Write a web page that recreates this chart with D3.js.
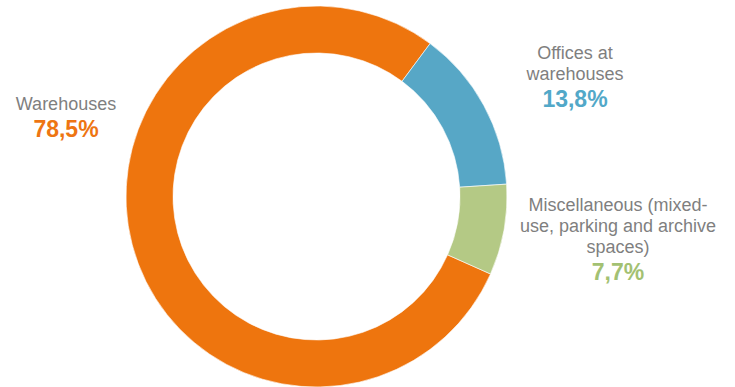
<!DOCTYPE html>
<html>
<head>
<meta charset="utf-8">
<script src="https://cdn.jsdelivr.net/npm/d3@7"></script>
<style>
  body { margin: 0; background: #fff; }
  svg { display: block; font-family: "Liberation Sans", Arial, sans-serif; }
</style>
</head>
<body>
<div id="chart"></div>
<script>
const categories = ["Warehouses", "Offices at warehouses", "Miscellaneous (mixed-use, parking and archive spaces)"];
const values = [78.5, 13.8, 7.7];
const valueLabels = ["78,5%", "13,8%", "7,7%"];
const labelLines = [
    ["Warehouses"],
    ["Offices at", "warehouses"],
    ["Miscellaneous (mixed-", "use, parking and archive", "spaces)"]
];
const sliceColors = ["#EE750E", "#57A7C6", "#B4C985"];
const valueColors = ["#EE7512", "#52A8C8", "#A3C172"];

const width = 735, height = 387;
const cx = 316.5, cy = 196.5;
const outerR = 190.5, innerR = 143.5;

const svg = d3.select("#chart").append("svg")
    .attr("width", width)
    .attr("height", height);

// first slice (Warehouses) begins at ~114deg clockwise from 12 o'clock
const pie = d3.pie().sort(null)
    .startAngle(114 * Math.PI / 180)
    .endAngle((114 + 360) * Math.PI / 180);

const arc = d3.arc().innerRadius(innerR).outerRadius(outerR);

const g = svg.append("g").attr("transform", `translate(${cx},${cy})`);

g.selectAll("path")
    .data(pie(values))
    .enter().append("path")
    .attr("d", arc)
    .attr("fill", (d, i) => sliceColors[i])
    .attr("stroke", "#fff")
    .attr("stroke-width", 0.6);

// label positions (centre x, first baseline y)
const labelPos = [
    { x: 66, y: 110 },
    { x: 575, y: 59 },
    { x: 618, y: 210.5 }
];
const lineH = 21, valueGap = 27;

categories.forEach((c, i) => {
    const lbl = svg.append("g");
    labelLines[i].forEach((line, j) => {
        lbl.append("text")
            .attr("x", labelPos[i].x)
            .attr("y", labelPos[i].y + j * lineH)
            .attr("text-anchor", "middle")
            .attr("fill", "#7F7F7F")
            .style("font-size", "18px")
            .text(line);
    });
    lbl.append("text")
        .attr("x", labelPos[i].x)
        .attr("y", labelPos[i].y + (labelLines[i].length - 1) * lineH + valueGap)
        .attr("text-anchor", "middle")
        .attr("fill", valueColors[i])
        .style("font-size", "23px")
        .style("font-weight", "bold")
        .text(valueLabels[i]);
});
</script>
</body>
</html>
